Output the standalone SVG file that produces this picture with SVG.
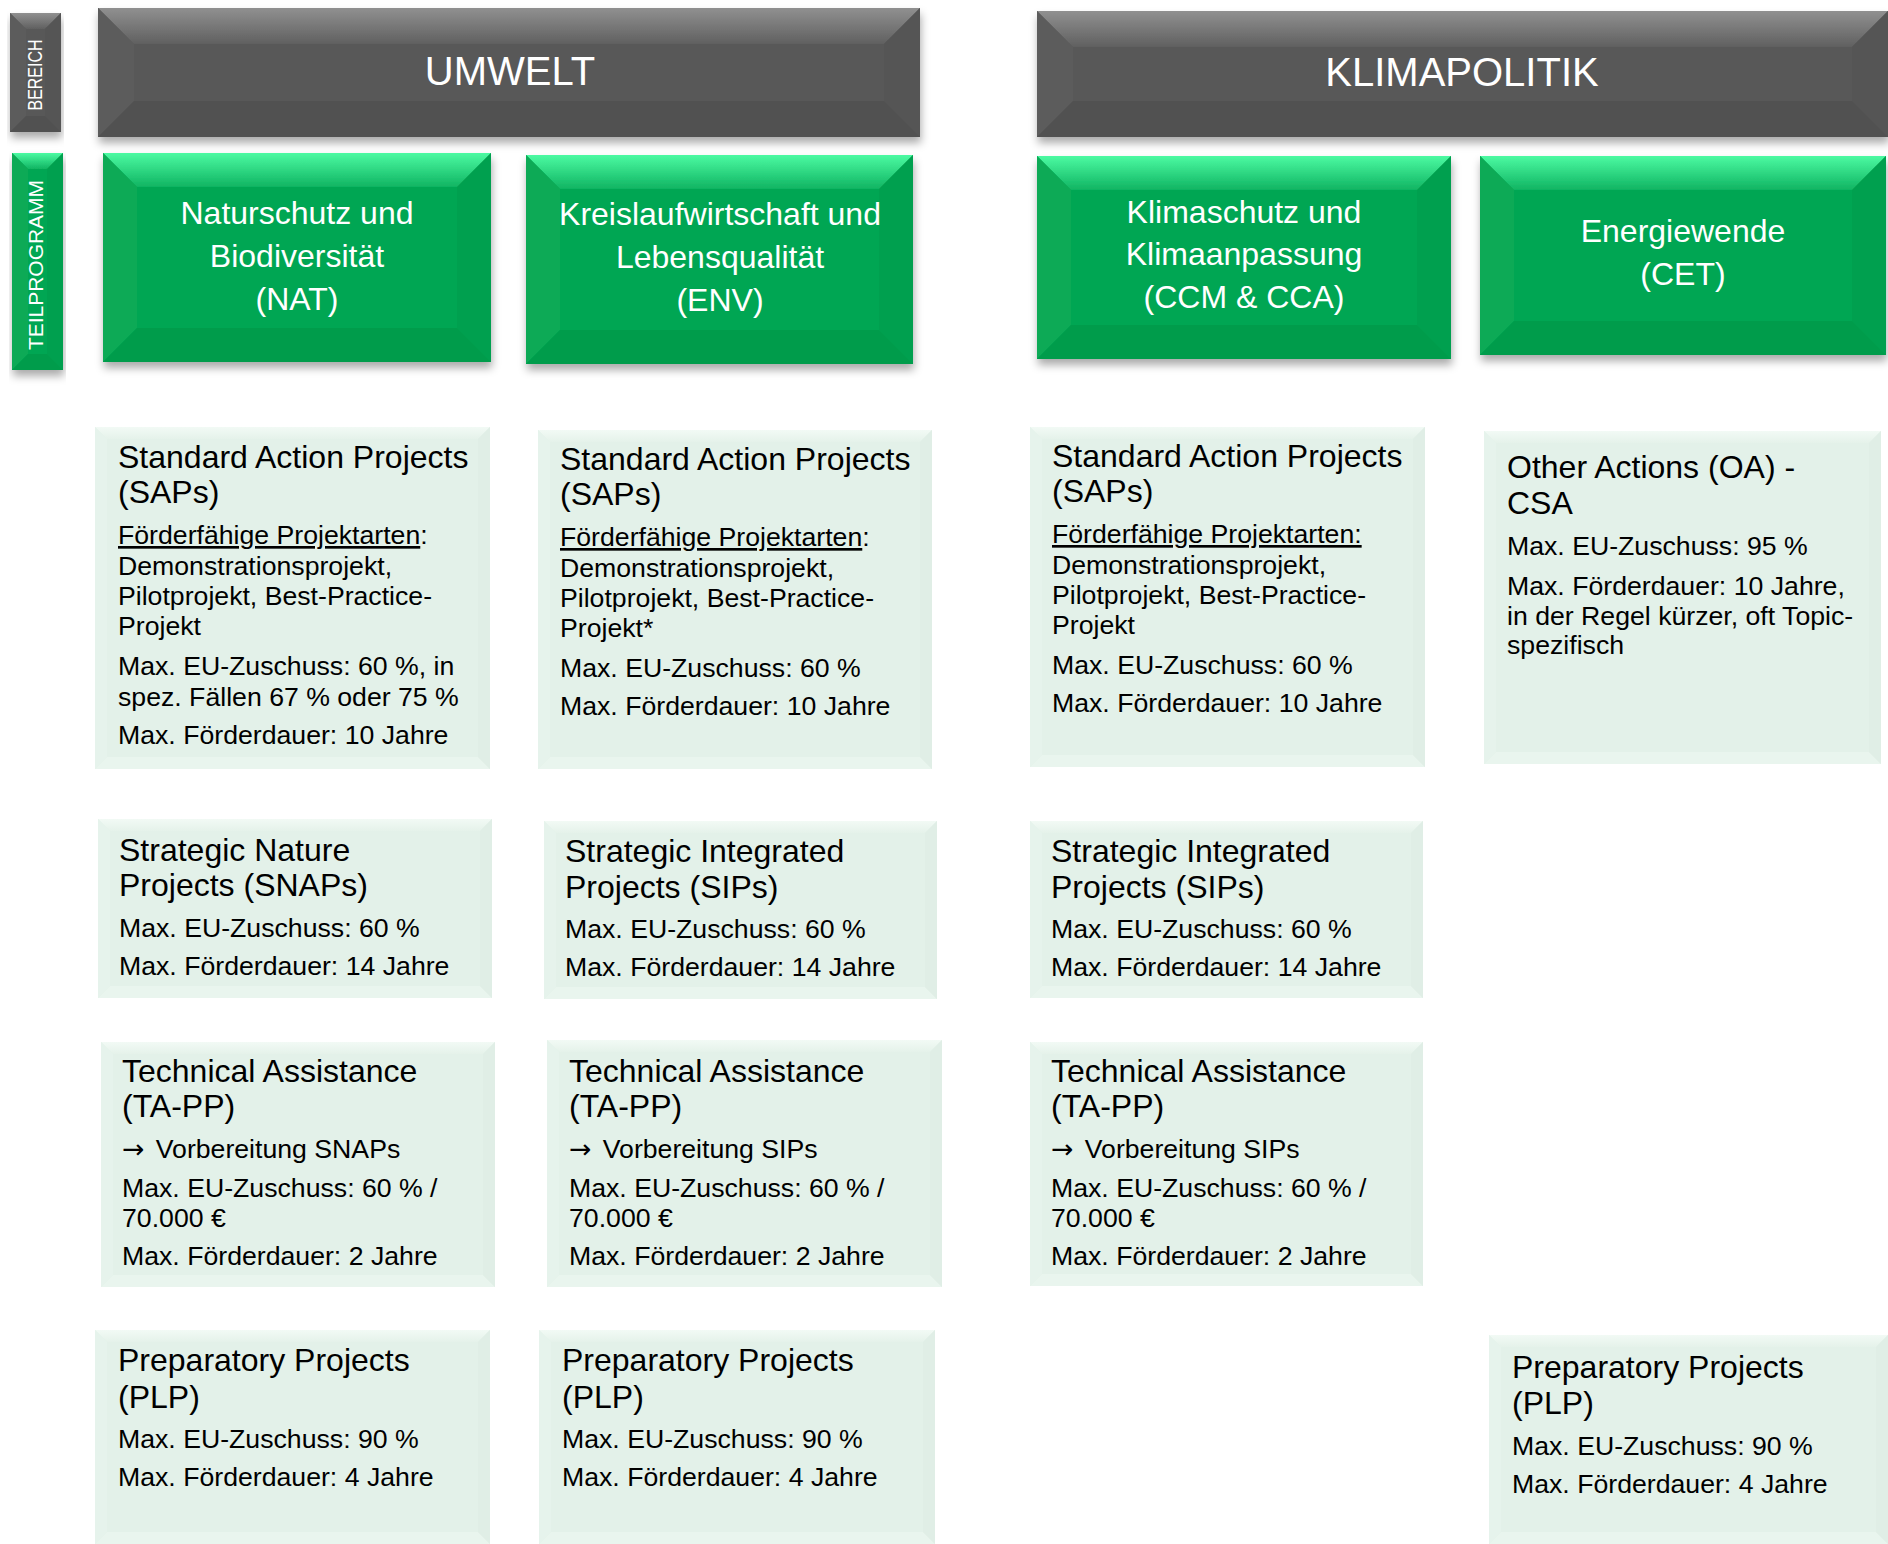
<svg xmlns="http://www.w3.org/2000/svg" width="1888" height="1544" viewBox="0 0 1888 1544">
<defs>
<linearGradient id="gTop" x1="0" y1="0" x2="0" y2="1"><stop offset="0" stop-color="#4cfaa2"/><stop offset="1" stop-color="#10b462"/></linearGradient>
<linearGradient id="kTop" x1="0" y1="0" x2="0" y2="1"><stop offset="0" stop-color="#909090"/><stop offset="1" stop-color="#606060"/></linearGradient>
<linearGradient id="pTop" x1="0" y1="0" x2="0" y2="1"><stop offset="0" stop-color="#f2faf5"/><stop offset="1" stop-color="#e5f2ea"/></linearGradient>
<filter id="sh" x="-5%" y="-10%" width="110%" height="130%"><feDropShadow dx="1" dy="6" stdDeviation="4" flood-color="#000" flood-opacity="0.33"/></filter>
</defs>
<style>
.gm{fill:#05a652}.gt{fill:url(#gTop)}.gl{fill:#08aa56}.gr{fill:#04a04f}.gb{fill:#039c4c}
.km{fill:#595959}.kt{fill:url(#kTop)}.kl{fill:#5c5c5c}.kr{fill:#555555}.kb{fill:#515151}
.pm{fill:#e3f1e9}.pt{fill:url(#pTop)}.pl{fill:#e6f3ec}.pr{fill:#e0eee6}.pb{fill:#e9f5ee}
text{font-family:"Liberation Sans",Arial,Helvetica,sans-serif}
.big{font-size:40px;fill:#fff;text-anchor:middle}
.hd{font-size:32px;fill:#fff;text-anchor:middle}
.side{font-size:21px;fill:#fff;text-anchor:middle}
.ti{font-size:32px;fill:#000}
.bd{font-size:26.67px;fill:#000}
.u{text-decoration:underline}
.ar{font-family:"DejaVu Sans",sans-serif}
</style>
<rect x="0" y="0" width="1888" height="1544" fill="#fff"/>

<g id="bereich">
<g filter="url(#sh)">
<rect class="km" x="10" y="13" width="51" height="119"/>
<polygon class="kt" points="10,13 61,13 45,29 26,29"/>
<polygon class="kl" points="10,13 26,29 26,116 10,132"/>
<polygon class="kr" points="61,13 61,132 45,116 45,29"/>
<polygon class="kb" points="10,132 26,116 45,116 61,132"/>
</g>
<text class="side" transform="translate(42,75) rotate(-90)" textLength="71" lengthAdjust="spacingAndGlyphs">BEREICH</text>
</g>

<g id="teilprogramm">
<g filter="url(#sh)">
<rect class="gm" x="12" y="153" width="51" height="217"/>
<polygon class="gt" points="12,153 63,153 47,169 28,169"/>
<polygon class="gl" points="12,153 28,169 28,354 12,370"/>
<polygon class="gr" points="63,153 63,370 47,354 47,169"/>
<polygon class="gb" points="12,370 28,354 47,354 63,370"/>
</g>
<text class="side" transform="translate(43,265) rotate(-90)" textLength="170" lengthAdjust="spacingAndGlyphs">TEILPROGRAMM</text>
</g>

<g id="umwelt">
<g filter="url(#sh)">
<rect class="km" x="98" y="8" width="822" height="129"/>
<polygon class="kt" points="98,8 920,8 884,44 134,44"/>
<polygon class="kl" points="98,8 134,44 134,101 98,137"/>
<polygon class="kr" points="920,8 920,137 884,101 884,44"/>
<polygon class="kb" points="98,137 134,101 884,101 920,137"/>
</g>
<text class="big" x="510" y="85">UMWELT</text>
</g>

<g id="klimapolitik">
<g filter="url(#sh)">
<rect class="km" x="1037" y="11" width="851" height="126"/>
<polygon class="kt" points="1037,11 1888,11 1852,47 1073,47"/>
<polygon class="kl" points="1037,11 1073,47 1073,101 1037,137"/>
<polygon class="kr" points="1888,11 1888,137 1852,101 1852,47"/>
<polygon class="kb" points="1037,137 1073,101 1852,101 1888,137"/>
</g>
<text class="big" x="1462" y="86">KLIMAPOLITIK</text>
</g>

<g id="nat">
<g filter="url(#sh)">
<rect class="gm" x="103" y="153" width="388" height="209"/>
<polygon class="gt" points="103,153 491,153 457,187 137,187"/>
<polygon class="gl" points="103,153 137,187 137,328 103,362"/>
<polygon class="gr" points="491,153 491,362 457,328 457,187"/>
<polygon class="gb" points="103,362 137,328 457,328 491,362"/>
</g>
<text class="hd" x="297" y="224">Naturschutz und</text>
<text class="hd" x="297" y="267">Biodiversität</text>
<text class="hd" x="297" y="310">(NAT)</text>
</g>

<g id="env">
<g filter="url(#sh)">
<rect class="gm" x="526" y="155" width="387" height="209"/>
<polygon class="gt" points="526,155 913,155 879,189 560,189"/>
<polygon class="gl" points="526,155 560,189 560,330 526,364"/>
<polygon class="gr" points="913,155 913,364 879,330 879,189"/>
<polygon class="gb" points="526,364 560,330 879,330 913,364"/>
</g>
<text class="hd" x="720" y="225">Kreislaufwirtschaft und</text>
<text class="hd" x="720" y="268">Lebensqualität</text>
<text class="hd" x="720" y="311">(ENV)</text>
</g>

<g id="ccm">
<g filter="url(#sh)">
<rect class="gm" x="1037" y="156" width="414" height="203"/>
<polygon class="gt" points="1037,156 1451,156 1417,190 1071,190"/>
<polygon class="gl" points="1037,156 1071,190 1071,325 1037,359"/>
<polygon class="gr" points="1451,156 1451,359 1417,325 1417,190"/>
<polygon class="gb" points="1037,359 1071,325 1417,325 1451,359"/>
</g>
<text class="hd" x="1244" y="223">Klimaschutz und</text>
<text class="hd" x="1244" y="265">Klimaanpassung</text>
<text class="hd" x="1244" y="308">(CCM &amp; CCA)</text>
</g>

<g id="cet">
<g filter="url(#sh)">
<rect class="gm" x="1480" y="156" width="406" height="199"/>
<polygon class="gt" points="1480,156 1886,156 1852,190 1514,190"/>
<polygon class="gl" points="1480,156 1514,190 1514,321 1480,355"/>
<polygon class="gr" points="1886,156 1886,355 1852,321 1852,190"/>
<polygon class="gb" points="1480,355 1514,321 1852,321 1886,355"/>
</g>
<text class="hd" x="1683" y="242">Energiewende</text>
<text class="hd" x="1683" y="285">(CET)</text>
</g>

<g id="sap-nat">
<rect class="pm" x="95" y="427" width="395" height="342"/>
<polygon class="pt" points="95,427 490,427 478,439 107,439"/>
<polygon class="pb" points="95,769 107,757 478,757 490,769"/>
<polygon class="pl" points="95,427 107,439 107,757 95,769"/>
<polygon class="pr" points="490,427 490,769 478,757 478,439"/>
<text class="ti" x="118" y="468">Standard Action Projects</text>
<text class="ti" x="118" y="503">(SAPs)</text>
<text class="bd" x="118" y="544"><tspan class="u">Förderfähige Projektarten</tspan>:</text>
<text class="bd" x="118" y="575">Demonstrationsprojekt,</text>
<text class="bd" x="118" y="605">Pilotprojekt, Best-Practice-</text>
<text class="bd" x="118" y="635">Projekt</text>
<text class="bd" x="118" y="675">Max. EU-Zuschuss: 60 %, in</text>
<text class="bd" x="118" y="706">spez. Fällen 67 % oder 75 %</text>
<text class="bd" x="118" y="744">Max. Förderdauer: 10 Jahre</text>
</g>

<g id="sap-env">
<rect class="pm" x="538" y="430" width="394" height="339"/>
<polygon class="pt" points="538,430 932,430 920,442 550,442"/>
<polygon class="pb" points="538,769 550,757 920,757 932,769"/>
<polygon class="pl" points="538,430 550,442 550,757 538,769"/>
<polygon class="pr" points="932,430 932,769 920,757 920,442"/>
<text class="ti" x="560" y="470">Standard Action Projects</text>
<text class="ti" x="560" y="505">(SAPs)</text>
<text class="bd" x="560" y="546"><tspan class="u">Förderfähige Projektarten</tspan>:</text>
<text class="bd" x="560" y="577">Demonstrationsprojekt,</text>
<text class="bd" x="560" y="607">Pilotprojekt, Best-Practice-</text>
<text class="bd" x="560" y="637">Projekt*</text>
<text class="bd" x="560" y="677">Max. EU-Zuschuss: 60 %</text>
<text class="bd" x="560" y="715">Max. Förderdauer: 10 Jahre</text>
</g>

<g id="sap-ccm">
<rect class="pm" x="1030" y="427" width="395" height="340"/>
<polygon class="pt" points="1030,427 1425,427 1413,439 1042,439"/>
<polygon class="pb" points="1030,767 1042,755 1413,755 1425,767"/>
<polygon class="pl" points="1030,427 1042,439 1042,755 1030,767"/>
<polygon class="pr" points="1425,427 1425,767 1413,755 1413,439"/>
<text class="ti" x="1052" y="467">Standard Action Projects</text>
<text class="ti" x="1052" y="502">(SAPs)</text>
<text class="bd" x="1052" y="543"><tspan class="u">Förderfähige Projektarten:</tspan></text>
<text class="bd" x="1052" y="574">Demonstrationsprojekt,</text>
<text class="bd" x="1052" y="604">Pilotprojekt, Best-Practice-</text>
<text class="bd" x="1052" y="634">Projekt</text>
<text class="bd" x="1052" y="674">Max. EU-Zuschuss: 60 %</text>
<text class="bd" x="1052" y="712">Max. Förderdauer: 10 Jahre</text>
</g>

<g id="oa-cet">
<rect class="pm" x="1484" y="431" width="397" height="333"/>
<polygon class="pt" points="1484,431 1881,431 1869,443 1496,443"/>
<polygon class="pb" points="1484,764 1496,752 1869,752 1881,764"/>
<polygon class="pl" points="1484,431 1496,443 1496,752 1484,764"/>
<polygon class="pr" points="1881,431 1881,764 1869,752 1869,443"/>
<text class="ti" x="1507" y="478">Other Actions (OA) -</text>
<text class="ti" x="1507" y="514">CSA</text>
<text class="bd" x="1507" y="555">Max. EU-Zuschuss: 95 %</text>
<text class="bd" x="1507" y="595">Max. Förderdauer: 10 Jahre,</text>
<text class="bd" x="1507" y="625">in der Regel kürzer, oft Topic-</text>
<text class="bd" x="1507" y="654">spezifisch</text>
</g>

<g id="snap-nat">
<rect class="pm" x="98" y="819" width="394" height="179"/>
<polygon class="pt" points="98,819 492,819 480,831 110,831"/>
<polygon class="pb" points="98,998 110,986 480,986 492,998"/>
<polygon class="pl" points="98,819 110,831 110,986 98,998"/>
<polygon class="pr" points="492,819 492,998 480,986 480,831"/>
<text class="ti" x="119" y="861">Strategic Nature</text>
<text class="ti" x="119" y="896">Projects (SNAPs)</text>
<text class="bd" x="119" y="937">Max. EU-Zuschuss: 60 %</text>
<text class="bd" x="119" y="975">Max. Förderdauer: 14 Jahre</text>
</g>

<g id="sip-env">
<rect class="pm" x="544" y="821" width="393" height="178"/>
<polygon class="pt" points="544,821 937,821 925,833 556,833"/>
<polygon class="pb" points="544,999 556,987 925,987 937,999"/>
<polygon class="pl" points="544,821 556,833 556,987 544,999"/>
<polygon class="pr" points="937,821 937,999 925,987 925,833"/>
<text class="ti" x="565" y="862">Strategic Integrated</text>
<text class="ti" x="565" y="898">Projects (SIPs)</text>
<text class="bd" x="565" y="938">Max. EU-Zuschuss: 60 %</text>
<text class="bd" x="565" y="976">Max. Förderdauer: 14 Jahre</text>
</g>

<g id="sip-ccm">
<rect class="pm" x="1030" y="821" width="393" height="177"/>
<polygon class="pt" points="1030,821 1423,821 1411,833 1042,833"/>
<polygon class="pb" points="1030,998 1042,986 1411,986 1423,998"/>
<polygon class="pl" points="1030,821 1042,833 1042,986 1030,998"/>
<polygon class="pr" points="1423,821 1423,998 1411,986 1411,833"/>
<text class="ti" x="1051" y="862">Strategic Integrated</text>
<text class="ti" x="1051" y="898">Projects (SIPs)</text>
<text class="bd" x="1051" y="938">Max. EU-Zuschuss: 60 %</text>
<text class="bd" x="1051" y="976">Max. Förderdauer: 14 Jahre</text>
</g>

<g id="ta-nat">
<rect class="pm" x="101" y="1042" width="394" height="245"/>
<polygon class="pt" points="101,1042 495,1042 483,1054 113,1054"/>
<polygon class="pb" points="101,1287 113,1275 483,1275 495,1287"/>
<polygon class="pl" points="101,1042 113,1054 113,1275 101,1287"/>
<polygon class="pr" points="495,1042 495,1287 483,1275 483,1054"/>
<text class="ti" x="122" y="1082">Technical Assistance</text>
<text class="ti" x="122" y="1117">(TA-PP)</text>
<text class="bd" x="122" y="1158"><tspan class="ar">→</tspan><tspan dx="4"> Vorbereitung SNAPs</tspan></text>
<text class="bd" x="122" y="1197">Max. EU-Zuschuss: 60 % /</text>
<text class="bd" x="122" y="1227">70.000 €</text>
<text class="bd" x="122" y="1265">Max. Förderdauer: 2 Jahre</text>
</g>

<g id="ta-env">
<rect class="pm" x="547" y="1040" width="395" height="247"/>
<polygon class="pt" points="547,1040 942,1040 930,1052 559,1052"/>
<polygon class="pb" points="547,1287 559,1275 930,1275 942,1287"/>
<polygon class="pl" points="547,1040 559,1052 559,1275 547,1287"/>
<polygon class="pr" points="942,1040 942,1287 930,1275 930,1052"/>
<text class="ti" x="569" y="1082">Technical Assistance</text>
<text class="ti" x="569" y="1117">(TA-PP)</text>
<text class="bd" x="569" y="1158"><tspan class="ar">→</tspan><tspan dx="4"> Vorbereitung SIPs</tspan></text>
<text class="bd" x="569" y="1197">Max. EU-Zuschuss: 60 % /</text>
<text class="bd" x="569" y="1227">70.000 €</text>
<text class="bd" x="569" y="1265">Max. Förderdauer: 2 Jahre</text>
</g>

<g id="ta-ccm">
<rect class="pm" x="1030" y="1042" width="393" height="244"/>
<polygon class="pt" points="1030,1042 1423,1042 1411,1054 1042,1054"/>
<polygon class="pb" points="1030,1286 1042,1274 1411,1274 1423,1286"/>
<polygon class="pl" points="1030,1042 1042,1054 1042,1274 1030,1286"/>
<polygon class="pr" points="1423,1042 1423,1286 1411,1274 1411,1054"/>
<text class="ti" x="1051" y="1082">Technical Assistance</text>
<text class="ti" x="1051" y="1117">(TA-PP)</text>
<text class="bd" x="1051" y="1158"><tspan class="ar">→</tspan><tspan dx="4"> Vorbereitung SIPs</tspan></text>
<text class="bd" x="1051" y="1197">Max. EU-Zuschuss: 60 % /</text>
<text class="bd" x="1051" y="1227">70.000 €</text>
<text class="bd" x="1051" y="1265">Max. Förderdauer: 2 Jahre</text>
</g>

<g id="plp-nat">
<rect class="pm" x="95" y="1330" width="395" height="214"/>
<polygon class="pt" points="95,1330 490,1330 478,1342 107,1342"/>
<polygon class="pb" points="95,1544 107,1532 478,1532 490,1544"/>
<polygon class="pl" points="95,1330 107,1342 107,1532 95,1544"/>
<polygon class="pr" points="490,1330 490,1544 478,1532 478,1342"/>
<text class="ti" x="118" y="1371">Preparatory Projects</text>
<text class="ti" x="118" y="1408">(PLP)</text>
<text class="bd" x="118" y="1448">Max. EU-Zuschuss: 90 %</text>
<text class="bd" x="118" y="1486">Max. Förderdauer: 4 Jahre</text>
</g>

<g id="plp-env">
<rect class="pm" x="539" y="1330" width="396" height="214"/>
<polygon class="pt" points="539,1330 935,1330 923,1342 551,1342"/>
<polygon class="pb" points="539,1544 551,1532 923,1532 935,1544"/>
<polygon class="pl" points="539,1330 551,1342 551,1532 539,1544"/>
<polygon class="pr" points="935,1330 935,1544 923,1532 923,1342"/>
<text class="ti" x="562" y="1371">Preparatory Projects</text>
<text class="ti" x="562" y="1408">(PLP)</text>
<text class="bd" x="562" y="1448">Max. EU-Zuschuss: 90 %</text>
<text class="bd" x="562" y="1486">Max. Förderdauer: 4 Jahre</text>
</g>

<g id="plp-cet">
<rect class="pm" x="1489" y="1335" width="399" height="209"/>
<polygon class="pt" points="1489,1335 1888,1335 1876,1347 1501,1347"/>
<polygon class="pb" points="1489,1544 1501,1532 1876,1532 1888,1544"/>
<polygon class="pl" points="1489,1335 1501,1347 1501,1532 1489,1544"/>
<polygon class="pr" points="1888,1335 1888,1544 1876,1532 1876,1347"/>
<text class="ti" x="1512" y="1378">Preparatory Projects</text>
<text class="ti" x="1512" y="1414">(PLP)</text>
<text class="bd" x="1512" y="1455">Max. EU-Zuschuss: 90 %</text>
<text class="bd" x="1512" y="1493">Max. Förderdauer: 4 Jahre</text>
</g>

<g id="connectors"></g>
</svg>
